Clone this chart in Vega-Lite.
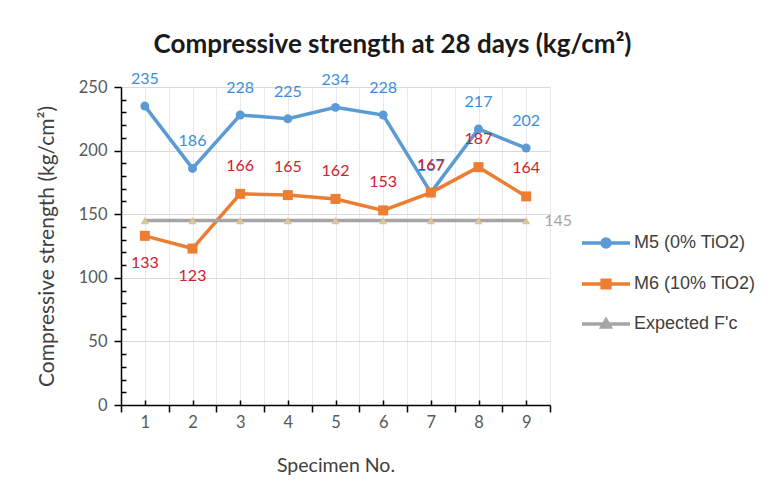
{
  "$schema": "https://vega.github.io/schema/vega-lite/v6.json",
  "width": 429,
  "height": 318,
  "autosize": {"type": "none"},
  "padding": {"left": 121, "top": 87, "right": 212, "bottom": 90},
  "background": "white",
  "title": {
    "text": "Compressive strength at 28 days (kg/cm²)",
    "font": "Lato", "fontSize": 26, "fontWeight": "bold", "color": "#1a1a1a",
    "anchor": "middle", "frame": "group", "dx": 57, "offset": 13
  },
  "data": {
    "values": [
      {"specimen": 1, "series": "M5 (0% TiO2)", "value": 235},
      {"specimen": 2, "series": "M5 (0% TiO2)", "value": 186},
      {"specimen": 3, "series": "M5 (0% TiO2)", "value": 228},
      {"specimen": 4, "series": "M5 (0% TiO2)", "value": 225},
      {"specimen": 5, "series": "M5 (0% TiO2)", "value": 234},
      {"specimen": 6, "series": "M5 (0% TiO2)", "value": 228},
      {"specimen": 7, "series": "M5 (0% TiO2)", "value": 167},
      {"specimen": 8, "series": "M5 (0% TiO2)", "value": 217},
      {"specimen": 9, "series": "M5 (0% TiO2)", "value": 202},
      {"specimen": 1, "series": "M6 (10% TiO2)", "value": 133},
      {"specimen": 2, "series": "M6 (10% TiO2)", "value": 123},
      {"specimen": 3, "series": "M6 (10% TiO2)", "value": 166},
      {"specimen": 4, "series": "M6 (10% TiO2)", "value": 165},
      {"specimen": 5, "series": "M6 (10% TiO2)", "value": 162},
      {"specimen": 6, "series": "M6 (10% TiO2)", "value": 153},
      {"specimen": 7, "series": "M6 (10% TiO2)", "value": 167},
      {"specimen": 8, "series": "M6 (10% TiO2)", "value": 187},
      {"specimen": 9, "series": "M6 (10% TiO2)", "value": 164},
      {"specimen": 1, "series": "Expected F'c", "value": 145},
      {"specimen": 2, "series": "Expected F'c", "value": 145},
      {"specimen": 3, "series": "Expected F'c", "value": 145},
      {"specimen": 4, "series": "Expected F'c", "value": 145},
      {"specimen": 5, "series": "Expected F'c", "value": 145},
      {"specimen": 6, "series": "Expected F'c", "value": 145},
      {"specimen": 7, "series": "Expected F'c", "value": 145},
      {"specimen": 8, "series": "Expected F'c", "value": 145},
      {"specimen": 9, "series": "Expected F'c", "value": 145}
    ]
  },
  "encoding": {
    "x": {
      "field": "specimen", "type": "quantitative",
      "scale": {"domain": [0.5, 9.5], "nice": false, "zero": false},
      "axis": {
        "title": "Specimen No.",
        "values": [0.5, 1, 1.5, 2, 2.5, 3, 3.5, 4, 4.5, 5, 5.5, 6, 6.5, 7, 7.5, 8, 8.5, 9, 9.5],
        "labelExpr": "datum.value % 1 === 0 ? format(datum.value, 'd') : ''",
        "labelOverlap": false, "labelBound": false, "labelFlush": false,
        "tickSize": {"condition": {"test": "datum.value % 1 !== 0", "value": 7}, "value": -5},
        "grid": true, "gridColor": "#e8e8e8", "gridWidth": 1,
        "labelPadding": 14, "titlePadding": 14
      }
    },
    "y": {
      "field": "value", "type": "quantitative",
      "scale": {"domain": [0, 250], "nice": false},
      "axis": {
        "title": "Compressive strength  (kg/cm²)",
        "titleFontSize": 21,
        "values": [0, 10, 20, 30, 40, 50, 60, 70, 80, 90, 100, 110, 120, 130, 140, 150, 160, 170, 180, 190, 200, 210, 220, 230, 240, 250],
        "labelExpr": "datum.value % 50 === 0 ? datum.label : ''",
        "labelOverlap": false, "labelBound": false, "labelFlush": false,
        "tickSize": {"condition": {"test": "datum.value % 50 === 0", "value": 7}, "value": -5},
        "grid": true, "gridColor": "#d9d9d9", "gridWidth": 1.2,
        "gridOpacity": {"condition": {"test": "datum.value % 50 === 0", "value": 1}, "value": 0},
        "labelPadding": 7, "titlePadding": 21
      }
    }
  },
  "layer": [
    {
      "mark": {"type": "line", "strokeWidth": 3.5},
      "encoding": {
        "color": {
          "field": "series", "type": "nominal",
          "scale": {"domain": ["M5 (0% TiO2)", "M6 (10% TiO2)", "Expected F'c"], "range": ["#5b9bd5", "#ed7d31", "#a5a5a5"]},
          "legend": {
            "orient": "none", "legendX": 459, "legendY": 130, "title": null,
            "labelFont": "Liberation Sans", "labelFontSize": 18, "labelColor": "#404040",
            "symbolSize": 2304, "symbolStrokeWidth": 3.5, "labelOffset": 2, "rowPadding": 3,
            "encode": {
              "symbols": {
                "update": {
                  "shape": {"signal": "datum.value === 'M5 (0% TiO2)' ? 'M-1,0H1M-0.17,0A0.17,0.17 0 1,0 0.17,0A0.17,0.17 0 1,0 -0.17,0Z' : (datum.value === 'M6 (10% TiO2)' ? 'M-1,0H1M-0.16,-0.16H0.16V0.16H-0.16Z' : 'M-1,0H1M0,-0.17L0.17,0.12H-0.17Z')"},
                  "fill": {"scale": "color", "field": "value"}
                }
              }
            }
          }
        }
      }
    },
    {
      "transform": [{"filter": "datum.series === 'M5 (0% TiO2)'"}],
      "mark": {"type": "point", "shape": "circle", "filled": true, "size": 80, "color": "#5b9bd5", "opacity": 1}
    },
    {
      "transform": [{"filter": "datum.series === 'M6 (10% TiO2)'"}],
      "mark": {"type": "point", "shape": "square", "filled": true, "size": 100, "color": "#ed7d31", "opacity": 1}
    },
    {
      "transform": [{"filter": "datum.series === 'Expected F\\'c'"}],
      "mark": {"type": "point", "shape": "triangle-up", "filled": true, "size": 70, "color": "#d8c59a", "opacity": 1}
    },
    {
      "transform": [{"filter": "datum.series === 'M5 (0% TiO2)'"}],
      "mark": {"type": "text", "dy": -27, "font": "Lato", "fontSize": 16, "color": "#3b8ed9", "baseline": "middle"},
      "encoding": {"text": {"field": "value", "type": "quantitative"}}
    },
    {
      "transform": [{"filter": "datum.series === 'M6 (10% TiO2)' && datum.specimen >= 3"}],
      "mark": {"type": "text", "dy": -28, "font": "Lato", "fontSize": 16, "color": "#cc2230", "baseline": "middle"},
      "encoding": {"text": {"field": "value", "type": "quantitative"}}
    },
    {
      "transform": [{"filter": "datum.series === 'M6 (10% TiO2)' && datum.specimen <= 2"}],
      "mark": {"type": "text", "dy": 27, "font": "Lato", "fontSize": 16, "color": "#cc2230", "baseline": "middle"},
      "encoding": {"text": {"field": "value", "type": "quantitative"}}
    },
    {
      "transform": [{"filter": "datum.series === 'Expected F\\'c' && datum.specimen === 9"}],
      "mark": {"type": "text", "dx": 18, "font": "Lato", "fontSize": 16, "color": "#a6a6a6", "baseline": "middle", "align": "left"},
      "encoding": {"text": {"field": "value", "type": "quantitative"}}
    }
  ],
  "config": {
    "view": {"stroke": null},
    "axis": {
      "labelFont": "Lato", "labelFontSize": 16.5, "labelColor": "#595959",
      "titleFont": "Lato", "titleFontSize": 19.5, "titleFontWeight": "normal", "titleColor": "#404040",
      "domainColor": "#000000", "tickColor": "#000000", "domainWidth": 1.5, "tickWidth": 1.5
    }
  }
}
